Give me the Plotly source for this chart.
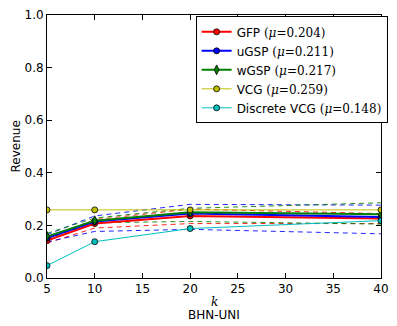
import plotly.graph_objects as go

k = [5, 10, 20, 40]

gfp = [0.142, 0.207, 0.236, 0.226]
gfp_hi = [0.152, 0.222, 0.262, 0.245]
gfp_lo = [0.133, 0.190, 0.207, 0.207]

ugsp = [0.152, 0.215, 0.245, 0.232]
ugsp_hi = [0.165, 0.236, 0.280, 0.277]
ugsp_lo = [0.137, 0.177, 0.185, 0.168]

wgsp = [0.158, 0.218, 0.250, 0.242]
wgsp_hi = [0.170, 0.228, 0.265, 0.286]
wgsp_lo = [0.148, 0.210, 0.215, 0.205]

vcg = [0.259, 0.259, 0.259, 0.259]
dvcg = [0.047, 0.138, 0.188, 0.218]

names = ["GFP", "uGSP", "wGSP", "VCG", "Discrete VCG"]
mus = ["0.204", "0.211", "0.217", "0.259", "0.148"]

RED, BLUE, GREEN, YEL, CYAN = "#ff0000", "#0000ff", "#008000", "#bfbf00", "#00bfbf"

fig = go.Figure()

# dashed bands
for lo, hi, c in [(gfp_lo, gfp_hi, RED), (ugsp_lo, ugsp_hi, BLUE), (wgsp_lo, wgsp_hi, GREEN)]:
    for arr in (lo, hi):
        fig.add_trace(go.Scatter(x=k, y=arr, mode="lines", showlegend=False,
                                 line=dict(color=c, width=1, dash="5px,4px"), opacity=0.85))

def lab(n, m):
    return f"{n} <span style='font-family:DejaVu Serif'>(<i>μ</i>=<span>{m}</span>)</span>"

series = [(gfp, RED, "circle", 2), (ugsp, BLUE, "circle", 2), (wgsp, GREEN, "diamond-tall", 2),
          (vcg, YEL, "circle", 1), (dvcg, CYAN, "circle", 1)]
for (vals, c, sym, w), n, m in zip(series, names, mus):
    fig.add_trace(go.Scatter(x=k, y=vals, mode="lines+markers", name=lab(n, m),
                             line=dict(color=c, width=w),
                             marker=dict(symbol=sym, size=6 if sym == "circle" else 7, color=c,
                                         line=dict(color="black", width=0.8))))

axis_common = dict(showline=True, linecolor="black", linewidth=1, mirror="allticks",
                   ticks="inside", ticklen=5, tickcolor="black", showgrid=False, zeroline=False,
                   tickfont=dict(family="DejaVu Sans", size=12, color="black"))

fig.update_xaxes(range=[5, 40], tickvals=[5, 10, 15, 20, 25, 30, 35, 40], **axis_common)
fig.update_yaxes(range=[0, 1.0], tickvals=[0, 0.2, 0.4, 0.6, 0.8, 1.0],
                 tickformat=".1f", **axis_common)

fig.update_layout(
    width=397, height=326,
    margin=dict(l=47, r=8, t=11, b=48),
    paper_bgcolor="white", plot_bgcolor="white",
    font=dict(family="DejaVu Sans", size=12, color="black"),
    legend=dict(x=0.445, y=0.995, xanchor="left", yanchor="top",
                bordercolor="black", borderwidth=1, bgcolor="white",
                font=dict(size=12), tracegroupgap=0, itemwidth=30),
    annotations=[
        dict(text="Revenue", textangle=-90, x=-0.093, y=0.5, xref="paper", yref="paper",
             xanchor="center", yanchor="middle",
             showarrow=False, font=dict(size=12)),
        dict(text="<i>k</i>", x=0.5, y=-0.09, xref="paper", yref="paper",
             xanchor="center", yanchor="middle",
             showarrow=False, font=dict(family="DejaVu Serif", size=12)),
        dict(text="BHN-UNI", x=0.5, y=-0.139, xref="paper", yref="paper",
             xanchor="center", yanchor="middle",
             showarrow=False, font=dict(size=12)),
    ],
)

fig.write_html("out.html")
